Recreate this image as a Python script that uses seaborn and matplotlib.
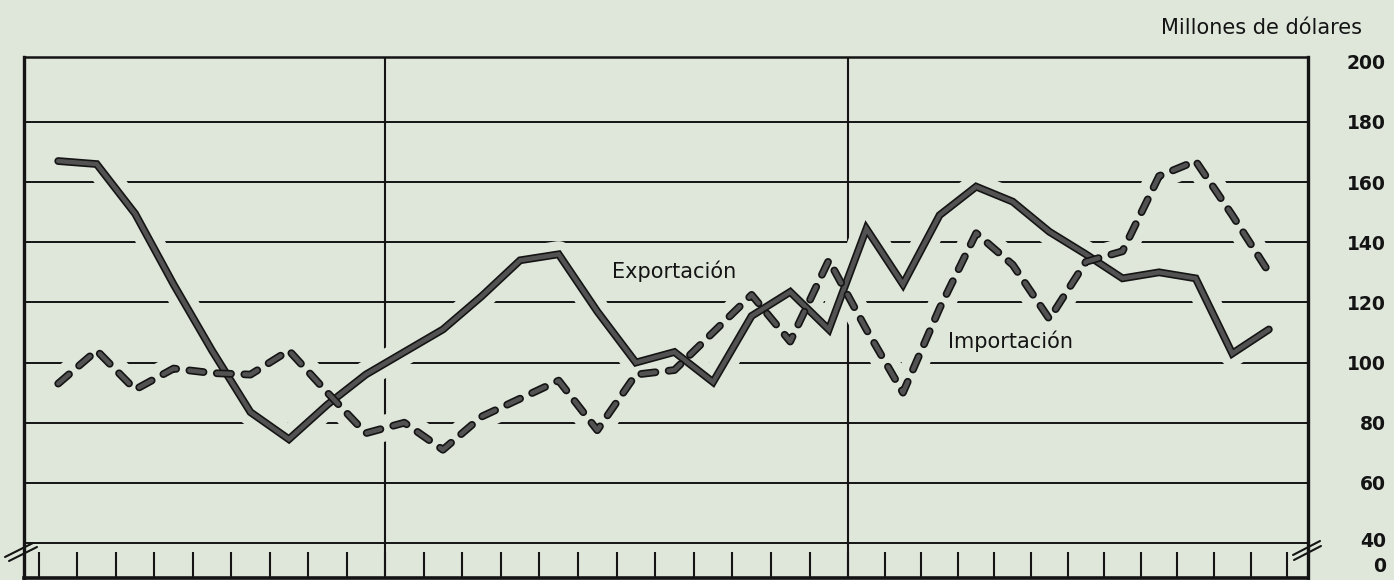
import numpy as np
import pandas as pd
import matplotlib
matplotlib.use("Agg")
import matplotlib.pyplot as plt
import seaborn as sns
from matplotlib import patheffects as pe
from matplotlib.lines import Line2D

# --- datos (millones de dolares, mensual) ---
meses_por_ano = [9, 12, 12]
exportacion = [167, 166, 149.5, 126, 104, 83.5, 74.5, 86, 96,
               103.5, 111, 122, 134, 136, 117, 100, 103.5, 93.5, 115.5, 123.5, 111,
               144.5, 126, 149, 158.5, 153.5, 143.5, 136, 128, 130, 128, 103, 111]
importacion = [93, 104, 91, 98, 96.5, 96, 104, 90, 76.5,
               80, 71, 82, 88, 94, 77.5, 96, 97.5, 110, 122.5, 107, 134,
               111, 90, 118, 143, 132.5, 114.5, 133.5, 137, 162, 167, 149, 130]
niveles = [40, 60, 80, 100, 120, 140, 160, 180, 200]
etiquetas = ["40", "60", "80", "100", "120", "140", "160", "180", "200"]

BG = "#dfe6da"
INK = "#141414"
GRIS = "#525252"

sns.set_style("white")
plt.rcParams["font.family"] = ["DejaVu Sans"]

n = len(exportacion)
mes = np.arange(n) + 0.5
df = pd.DataFrame({
    "mes": np.concatenate([mes, mes]),
    "valor": exportacion + importacion,
    "serie": ["Exportación"] * n + ["Importación"] * n,
})

W, H = 1394, 580
fig = plt.figure(figsize=(W / 100, H / 100), dpi=100, facecolor=BG)
ax = fig.add_axes([24 / W, 1 - 578 / H, (1308 - 24) / W, (578 - 57) / H])
ax.set_facecolor(BG)

# the drawing's months are not evenly wide from year to year
limites = np.concatenate([[0], np.cumsum(meses_por_ano)])
px = [39, 385, 848, 1287]
k_m = np.concatenate([[-1], limites, [limites[-1] + 1]])
k_p = np.array([px[0] - 38.44] + px + [px[-1] + 36.58])
ax.set_xscale("function", functions=(lambda m: np.interp(m, k_m, k_p),
                                     lambda p: np.interp(p, k_p, k_m)))

# grid and year dividers
ax.hlines(niveles[:-1], -1, n + 1, color=INK, lw=1.4, zorder=1)
for b in limites[1:-1]:
    ax.axvline(b, color=INK, lw=1.5, zorder=1)

# halo that breaks the grid around the curves
sns.lineplot(data=df, x="mes", y="valor", hue="serie", palette=[BG, BG],
             lw=19, legend=False, ax=ax, zorder=1.5)
n_halo = len(ax.lines)
sns.lineplot(data=df, x="mes", y="valor", style="serie", color=GRIS,
             dashes={"Exportación": "", "Importación": (3.2, 3.0)},
             lw=3.2, legend=False, ax=ax, zorder=3)
for ln in ax.lines[:n_halo]:
    ln.set_solid_capstyle("round")
for ln in ax.lines[n_halo:]:
    ln.set_dash_capstyle("round")
    ln.set_solid_joinstyle("miter")
    ln.set_path_effects([pe.Stroke(linewidth=5.6, foreground=INK), pe.Normal()])

ax.set_xlim(-0.39, 33.57)
ax.set_ylim(28.36, 201.6)

# bottom month ticks
ax.set_xticks(limites[0] + np.arange(limites[-1] + 1))
ax.tick_params(axis="x", direction="in", length=19, width=1.5, color=INK,
               labelbottom=False, bottom=True)

# right value scale
ax.yaxis.tick_right()
ax.set_yticks([32.7, 41.3] + niveles[1:], ["0"] + etiquetas)
ax.tick_params(axis="y", length=0, pad=56, labelsize=13.5, labelcolor=INK)
for t in ax.get_yticklabels():
    t.set_horizontalalignment("right")
    t.set_fontweight("bold")
ax.set_xlabel("")
ax.set_ylabel("")

for side, lw in [("left", 2.4), ("right", 2.4), ("top", 1.8), ("bottom", 2.6)]:
    ax.spines[side].set_visible(True)
    ax.spines[side].set_color(INK)
    ax.spines[side].set_linewidth(lw)
    ax.spines[side].set_zorder(4)

ax.text(14.88, 130.5, "Exportación", fontsize=15, color=INK, va="center", ha="left", zorder=5)
ax.text(23.73, 107, "Importación", fontsize=15, color=INK, va="center", ha="left", zorder=5)
fig.text(1362 / W, 1 - 28 / H, "Millones de dólares", fontsize=15, color=INK,
         ha="right", va="center")

# axis break marks
for (x0, y0, x1, y1) in [(5, 557, 33, 543), (9, 561, 37, 547),
                         (1293, 555, 1320, 541), (1294, 560, 1321, 546)]:
    fig.add_artist(Line2D([x0 / W, x1 / W], [1 - y0 / H, 1 - y1 / H],
                          color=INK, lw=1.5, transform=fig.transFigure))

fig.savefig("out.png", dpi=100, facecolor=BG)
